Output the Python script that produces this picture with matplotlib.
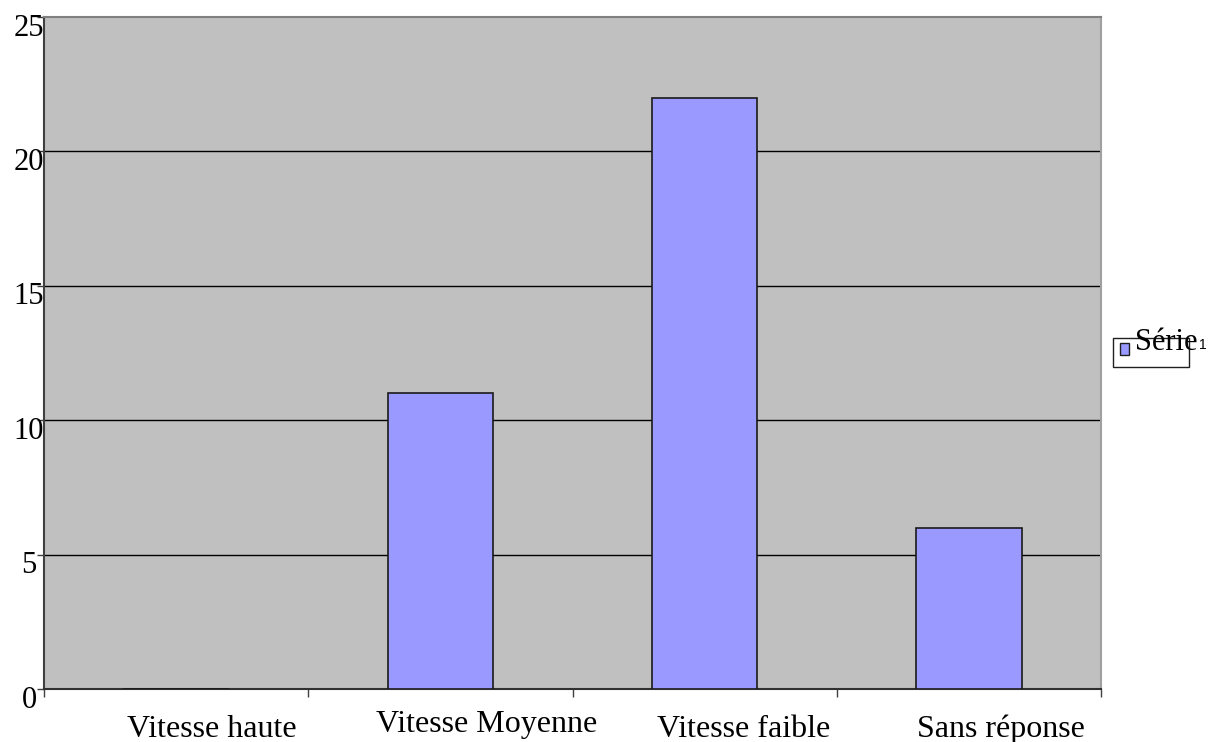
import matplotlib
matplotlib.use("Agg")
import matplotlib.pyplot as plt
import matplotlib.transforms as mtransforms
from matplotlib.patches import Rectangle

categories = ["Vitesse haute", "Vitesse Moyenne", "Vitesse faible", "Sans réponse"]
values = [0, 11, 22, 6]
yticks = [0, 5, 10, 15, 20, 25]
series_name = "Série"
series_sub = "1"

# label placement offsets in pixels (style only)
label_dx = [36, 46, 39, 32]
label_dy = [48, 43, 48, 48]

W, H = 1209, 742
fig = plt.figure(figsize=(W / 100, H / 100), dpi=100)
fig.patch.set_facecolor("white")
left, right, top, bottom = 44, 1101, 17, 689
ax = fig.add_axes([left / W, 1 - bottom / H, (right - left) / W, (bottom - top) / H])
ax.set_facecolor("#C0C0C0")

x = list(range(len(categories)))
ax.bar(x, values, width=0.4, color="#9999FF", edgecolor="#1a1a1a", linewidth=1.2, zorder=3)

ax.set_xlim(-0.5, len(categories) - 0.5)
ax.set_ylim(0, 25)
ax.set_yticks(yticks)
ax.set_yticklabels([])
ax.tick_params(axis="y", direction="out", length=5, width=1, color="#404040")

def px(p):
    return p / 100.0

# y tick labels (centred, shifted down like the reference)
ytrans = mtransforms.blended_transform_factory(ax.transAxes, ax.transData) + \
    mtransforms.ScaledTranslation(px(-15), px(-11), fig.dpi_scale_trans)
for t in yticks:
    ax.text(0, t, str(t), transform=ytrans, ha="center", va="center",
            fontfamily="Liberation Serif", fontsize=22, clip_on=False)

for t in yticks[1:-1]:
    ax.axhline(t, color="black", linewidth=1, zorder=1)

# x ticks at category boundaries
ax.set_xticks([i - 0.5 for i in range(len(categories) + 1)])
ax.set_xticklabels([])
ax.tick_params(axis="x", direction="out", length=6, width=1, color="#404040")

# x category labels
for i, cat in enumerate(categories):
    xtrans = mtransforms.blended_transform_factory(ax.transData, ax.transAxes) + \
        mtransforms.ScaledTranslation(px(label_dx[i]), px(-label_dy[i]), fig.dpi_scale_trans)
    ax.text(i, 0, cat, transform=xtrans, ha="center", va="baseline",
            fontfamily="Liberation Serif", fontsize=23, clip_on=False)

ax.spines["left"].set_color("#404040")
ax.spines["bottom"].set_color("#303030")
ax.spines["top"].set_color("#808080")
ax.spines["right"].set_color("#A0A0A0")
for s in ax.spines.values():
    s.set_linewidth(1.5)

# legend
def fx(p):
    return p / W
def fy(p):
    return 1 - p / H

fig.patches.append(Rectangle((fx(1113), fy(367)), fx(1189) - fx(1113), fy(338) - fy(367),
                             transform=fig.transFigure, facecolor="white", edgecolor="#202020", linewidth=1))
fig.patches.append(Rectangle((fx(1120), fy(355)), fx(1129) - fx(1120), fy(343) - fy(355),
                             transform=fig.transFigure, facecolor="#9999FF", edgecolor="#202020", linewidth=1))
fig.text(fx(1135), fy(350), series_name, fontfamily="Liberation Serif", fontsize=22,
         va="baseline", ha="left")
fig.text(fx(1199), fy(349), series_sub, fontfamily="Liberation Sans", fontsize=10,
         va="baseline", ha="left")

fig.savefig("out.png", dpi=100)
